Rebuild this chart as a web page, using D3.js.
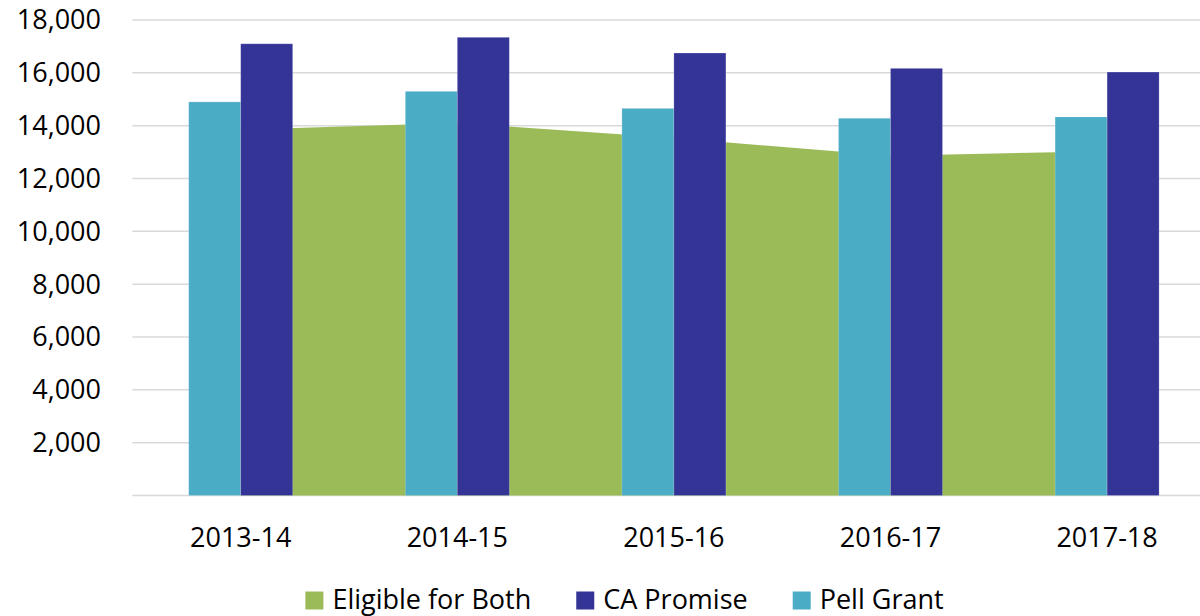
<!DOCTYPE html>
<html>
<head>
<meta charset="utf-8">
<script src="https://cdn.jsdelivr.net/npm/d3@7"></script>
<style>
  html, body { margin: 0; padding: 0; background: #fff; }
  svg { display: block; font-family: "Open Sans", sans-serif; }
</style>
</head>
<body>
<svg id="chart" width="1200" height="616"></svg>
<script>
const categories = ["2013-14", "2014-15", "2015-16", "2016-17", "2017-18"];
const eligibleBoth = [13850, 14100, 13530, 12865, 13035];
const caPromise = [17100, 17345, 16750, 16170, 16030];
const pellGrant = [14900, 15300, 14655, 14280, 14330];
const yTicks = [2000, 4000, 6000, 8000, 10000, 12000, 14000, 16000, 18000];
const legendItems = ["Eligible for Both", "CA Promise", "Pell Grant"];

const colors = {
  "Eligible for Both": "#9BBB59",
  "CA Promise": "#343497",
  "Pell Grant": "#4BACC6"
};

const svg = d3.select("#chart");
const fontSize = 27;

const y = d3.scaleLinear().domain([0, 18000]).range([495.5, 20]);
const x = d3.scaleBand().domain(categories).range([132.4, 1215.4]).paddingInner(0).paddingOuter(0);
const barW = x.bandwidth() * 52 / 216.6;
const x1 = d3.scaleBand().domain(["Pell Grant", "CA Promise"]).range([x.bandwidth() / 2 - barW, x.bandwidth() / 2 + barW]).padding(0);

// gridlines
svg.append("g").selectAll("line")
  .data([0].concat(yTicks))
  .join("line")
  .attr("x1", 132.4).attr("x2", 1215.4)
  .attr("y1", d => y(d)).attr("y2", d => y(d))
  .attr("stroke", "#D9D9D9").attr("stroke-width", 1.5);

// y labels
svg.append("g").selectAll("text")
  .data(yTicks)
  .join("text")
  .attr("x", 101).attr("y", d => y(d))
  .attr("dy", "0.35em")
  .attr("text-anchor", "end")
  .attr("font-size", fontSize)
  .attr("fill", "#000")
  .text(d => d3.format(",")(d));

// area
const area = d3.area()
  .x((d, i) => x(categories[i]) + x.bandwidth() / 2)
  .y0(y(0))
  .y1(d => y(d));
svg.append("path")
  .datum(eligibleBoth)
  .attr("d", area)
  .attr("fill", colors["Eligible for Both"]);

// bars
const barData = [];
categories.forEach((c, i) => {
  barData.push({ cat: c, key: "Pell Grant", v: pellGrant[i] });
  barData.push({ cat: c, key: "CA Promise", v: caPromise[i] });
});
svg.append("g").selectAll("rect")
  .data(barData)
  .join("rect")
  .attr("x", d => x(d.cat) + x1(d.key))
  .attr("width", x1.bandwidth())
  .attr("y", d => y(d.v))
  .attr("height", d => y(0) - y(d.v))
  .attr("fill", d => colors[d.key])
  .attr("stroke", "rgba(255,255,255,0.25)")
  .attr("stroke-width", 0.75);

// x labels
svg.append("g").selectAll("text")
  .data(categories)
  .join("text")
  .attr("x", d => x(d) + x.bandwidth() / 2)
  .attr("y", 547)
  .attr("text-anchor", "middle")
  .attr("font-size", fontSize)
  .attr("fill", "#000")
  .text(d => d);

// legend
const lg = svg.append("g");
const sq = 18, gapText = 9, gapItem = 45;
const items = legendItems.map(name => {
  const g = lg.append("g");
  g.append("rect").attr("width", sq).attr("height", sq).attr("y", 591.5).attr("fill", colors[name]);
  const t = g.append("text").attr("x", sq + gapText).attr("y", 608.5)
    .attr("font-size", fontSize).attr("fill", "#000").text(name);
  return { g, w: sq + gapText + t.node().getComputedTextLength() };
});
const total = d3.sum(items, d => d.w) + gapItem * (items.length - 1);
let cx = 624.5 - total / 2;
items.forEach(it => {
  it.g.attr("transform", `translate(${cx},0)`);
  cx += it.w + gapItem;
});
</script>
</body>
</html>
